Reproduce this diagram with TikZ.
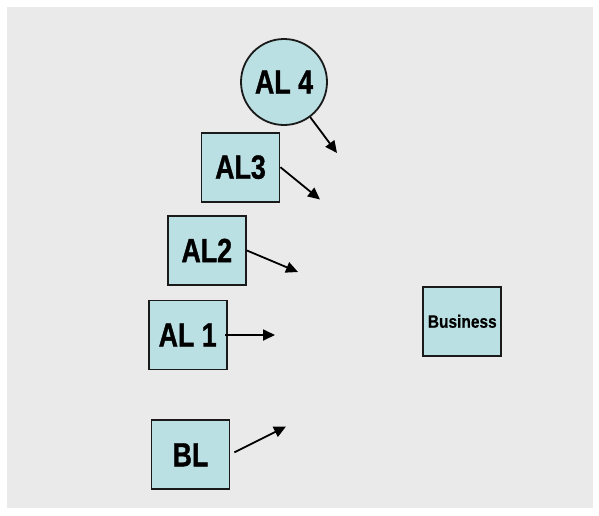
\documentclass[tikz,border=0pt]{standalone}
\usepackage{fontspec}
\usetikzlibrary{arrows.meta}
\newfontfamily\labelfont[FakeStretch=0.8,FakeBold=1]{Liberation Sans}
\newfontfamily\smallfont[FakeStretch=0.86,FakeBold=0.6]{Liberation Sans}
\definecolor{panel}{HTML}{EAEAEA}
\definecolor{boxfill}{HTML}{BBE0E3}
\definecolor{edge}{HTML}{1A1A1A}
\tikzset{
  level/.style={draw=edge, line width=1.8pt, fill=boxfill, inner sep=0pt,
    font=\labelfont\bfseries\fontsize{33.5}{36}\selectfont},
  levelbox/.style={level, rectangle, minimum width=78pt, minimum height=69pt},
  levelcircle/.style={level, circle, minimum size=86pt},
  bizbox/.style={levelbox, font=\smallfont\bfseries\fontsize{18}{20}\selectfont},
  flow/.style={draw=black, line width=1.8pt, -{Triangle[length=12pt,width=11pt]}}
}
\begin{document}
\begin{tikzpicture}[x=1pt, y=-1pt]
  \useasboundingbox (0,0) rectangle (599,515);
  \fill[panel] (7,7) rectangle (593,508);

  % levels
  \node[levelcircle] (al4) at (284,82) {AL 4};
  \node[levelbox] (al3) at (240.5,167.2) {AL3};
  \node[levelbox] (al2) at (206.8,250.4) {AL2};
  \node[levelbox] (al1) at (187.7,335) {AL 1};
  \node[levelbox] (bl) at (190.5,454.8) {BL};
  \node[bizbox] (biz) at (462.3,321.3) {Business};

  % loose arrow ends
  \coordinate (t4) at (337,153);
  \coordinate (t3) at (320,199.5);
  \coordinate (t2) at (298,272);
  \coordinate (t1) at (275,335);
  \coordinate (tb) at (286,426.5);

  \draw[flow] (al4) -- (t4);
  \draw[flow] (al3.east) -- (t3);
  \draw[flow] (al2.east) -- (t2);
  \draw[flow] ([xshift=-2.5pt]al1.east) -- (t1);
  \draw[flow] ([shift={(4,-2.5)}]bl.east) -- (tb);
\end{tikzpicture}
\end{document}
